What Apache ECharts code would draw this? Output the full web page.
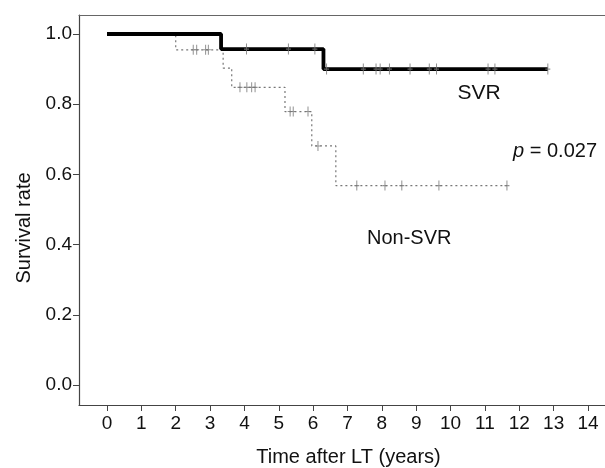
<!DOCTYPE html>
<html>
<head>
<meta charset="utf-8">
<script src="https://cdn.jsdelivr.net/npm/echarts@6/dist/echarts.min.js"></script>
<style>
html,body{margin:0;padding:0;background:#fff;}
#chart{width:605px;height:468px;}
</style>
</head>
<body>
<div id="chart"></div>
<script>
// ---- data ----
var xTicks = [0,1,2,3,4,5,6,7,8,9,10,11,12,13,14];
var yTicks = [0,0.2,0.4,0.6,0.8,1.0];

// SVR Kaplan-Meier steps (time in years, survival after that time)
var svrTimes = [0, 3.32, 6.30, 12.83];
var svrSurv  = [1.0, 0.957, 0.900, 0.900];
var svrCensor = [4.06, 5.28, 6.05, 6.39, 7.46, 7.83, 7.95, 8.22, 8.82, 9.38, 9.59, 11.09, 11.29, 12.83];

// Non-SVR Kaplan-Meier steps
var nonTimes = [0, 2.0, 3.38, 3.63, 5.18, 5.96, 6.66, 11.64];
var nonSurv  = [1.0, 0.955, 0.903, 0.848, 0.779, 0.681, 0.568, 0.568];
var nonCensor = [2.51, 2.61, 2.87, 2.95, 3.87, 4.07, 4.21, 4.31, 5.33, 5.42, 5.85, 6.14, 7.27, 8.09, 8.58, 9.66, 11.64];

var labelSVR = 'SVR';
var labelNon = 'Non-SVR';
var xTitle = 'Time after LT (years)';
var yTitle = 'Survival rate';

// ---- helpers ----
function pairs(ts, ss){ return ts.map(function(t,i){ return [t, ss[i]]; }); }
function levelAt(ts, ss, t){
  var v = ss[0];
  for (var i=0;i<ts.length;i++){ if (ts[i] <= t) v = ss[i]; }
  return v;
}
function censorPts(c, ts, ss){ return c.map(function(t){ return [t, levelAt(ts, ss, t)]; }); }

var FONT = 'Liberation Sans, Arial, Helvetica, sans-serif';
var tickSym = 'path://M2,0h1v9h-1z M0,4h5v1h-5z';

var chart = echarts.init(document.getElementById('chart'), null, {renderer:'canvas'});
chart.setOption({
  animation:false,
  backgroundColor:'#fff',
  grid:{left:79, top:15, right:0, bottom:63, containLabel:false},
  xAxis:[{
    type:'value', min:-0.815, max:14.494, position:'bottom',
    axisLine:{show:true, onZero:false, lineStyle:{color:'#444', width:1.2}},
    axisTick:{show:true, inside:false, length:6, customValues:xTicks, lineStyle:{color:'#444'}},
    axisLabel:{show:true, customValues:xTicks, margin:9, fontSize:19, color:'#111', fontFamily:FONT},
    splitLine:{show:false}
  },{
    type:'value', min:-0.815, max:14.494, position:'top',
    axisLine:{show:true, onZero:false, lineStyle:{color:'#666', width:1.2}},
    axisTick:{show:false}, axisLabel:{show:false}, splitLine:{show:false}
  }],
  yAxis:{
    type:'value', min:-0.057, max:1.0541,
    axisLine:{show:true, onZero:false, lineStyle:{color:'#444', width:1.2}},
    axisTick:{show:true, length:6, customValues:yTicks, lineStyle:{color:'#444'}},
    axisLabel:{show:true, customValues:yTicks, margin:7, fontSize:19, color:'#111', fontFamily:FONT,
      formatter:function(v){ return v.toFixed(1); }},
    splitLine:{show:false}
  },
  series:[
    {type:'line', step:'end', data:pairs(nonTimes, nonSurv), showSymbol:false, z:2,
     lineStyle:{color:'#777', width:1.2, type:[2,3]}},
    {type:'line', step:'end', data:pairs(svrTimes, svrSurv), showSymbol:false, z:3,
     lineStyle:{color:'#000', width:3.8}},
    {type:'scatter', data:censorPts(nonCensor, nonTimes, nonSurv), symbol:tickSym, symbolSize:[5,10], z:4,
     itemStyle:{color:'#777'}},
    {type:'scatter', data:censorPts(svrCensor, svrTimes, svrSurv), symbol:tickSym, symbolSize:[5,11], z:4,
     itemStyle:{color:'#777'}}
  ],
  graphic:[
    {type:'text', x:348.5, y:457, style:{text:xTitle, font:'20px '+FONT, fill:'#111', textAlign:'center', textVerticalAlign:'middle'}},
    {type:'text', x:24, y:228, rotation:Math.PI/2, style:{text:yTitle, font:'20px '+FONT, fill:'#111', textAlign:'center', textVerticalAlign:'middle'}},
    {type:'text', x:479, y:93, style:{text:labelSVR, font:'21px '+FONT, fill:'#111', textAlign:'center', textVerticalAlign:'middle'}},
    {type:'text', x:367, y:238, style:{text:labelNon, font:'20px '+FONT, fill:'#111', textAlign:'left', textVerticalAlign:'middle'}},
    {type:'text', x:597, y:151, style:{rich:{p:{font:'italic 20px '+FONT, fill:'#111'}, n:{font:'20px '+FONT, fill:'#111'}},
      text:'{p|p}{n| = 0.027}', textAlign:'right', textVerticalAlign:'middle'}}
  ]
});
</script>
</body>
</html>
